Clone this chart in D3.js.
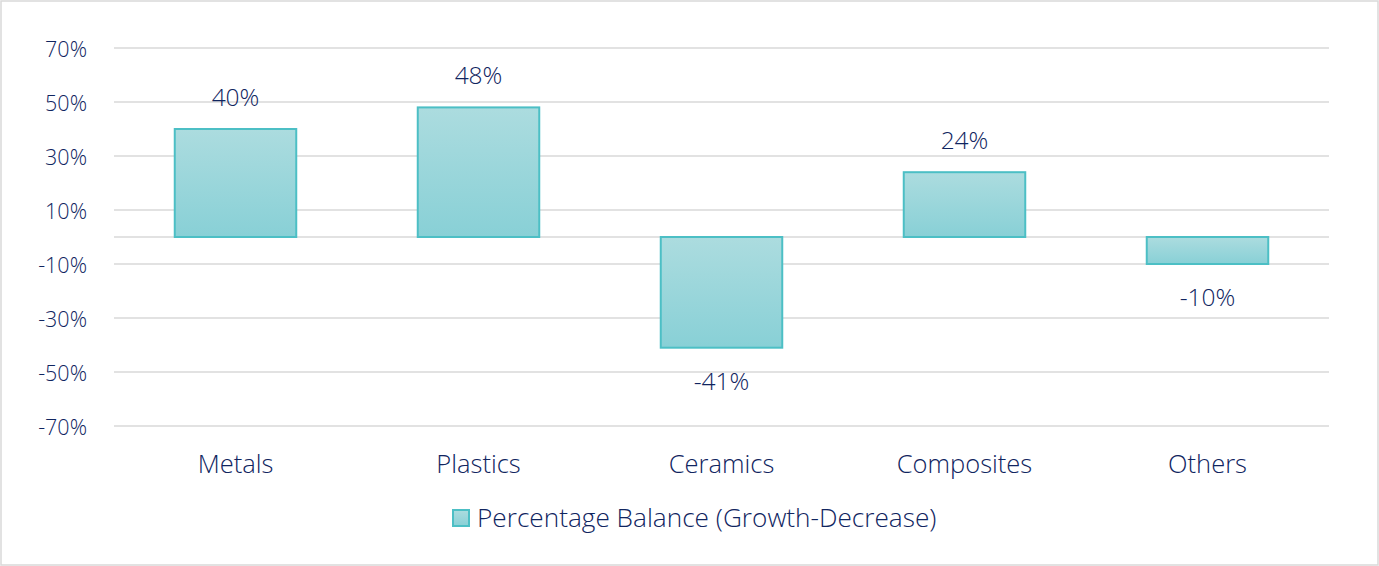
<!DOCTYPE html>
<html><head><meta charset="utf-8">
<script src="https://cdn.jsdelivr.net/npm/d3@7"></script>
<style>
html,body{margin:0;padding:0;background:#fff;}
svg text{font-family:"Open Sans",sans-serif;font-weight:300;fill:#10255f;}
</style></head>
<body>
<svg id="c" width="1379" height="566"></svg>
<script>
const categories = ["Metals","Plastics","Ceramics","Composites","Others"];
const values = [40,48,-41,24,-10];
const yTicks = [70,50,30,10,-10,-30,-50,-70];
const seriesName = "Percentage Balance (Growth-Decrease)";

const W=1379,H=566;
const FONT="'Open Sans', sans-serif";
const TXT="#10255f";
const svg=d3.select("#c");
svg.append("rect").attr("x",1).attr("y",1).attr("width",W-2).attr("height",H-2)
  .attr("fill","#fff").attr("stroke","#d9d9d9").attr("stroke-width",1.5);

const defs=svg.append("defs");
const g=defs.append("linearGradient").attr("id","bg").attr("x1",0).attr("y1",0).attr("x2",0).attr("y2",1);
g.append("stop").attr("offset","0%").attr("stop-color","#acdcdf");
g.append("stop").attr("offset","100%").attr("stop-color","#88d0d6");

const left=114,right=1329;
const y=d3.scaleLinear().domain([-70,70]).range([426,48]);
const x=d3.scaleBand().domain(categories).range([left,right]).paddingInner(0.5).paddingOuter(0.25);

// gridlines
const grid=svg.append("g");
grid.selectAll("line").data(yTicks.concat([0])).join("line")
  .attr("x1",left).attr("x2",right).attr("y1",d=>y(d)).attr("y2",d=>y(d))
  .attr("stroke","#d9d9d9").attr("stroke-width",1.5);

// y axis labels
const yAxis=d3.axisLeft(y).tickValues(yTicks).tickFormat(d=>d+"%").tickSize(0).tickPadding(0);
const ya=svg.append("g").attr("transform","translate(87,0)").call(yAxis);
ya.select(".domain").remove();
ya.selectAll("text").attr("font-size",21.5).attr("fill",TXT).attr("font-family",FONT).attr("dy","0.4em");

// bars
svg.append("g").selectAll("rect").data(values).join("rect")
  .attr("x",(d,i)=>x(categories[i]))
  .attr("width",x.bandwidth())
  .attr("y",d=>d>=0?y(d):y(0))
  .attr("height",d=>Math.abs(y(d)-y(0)))
  .attr("fill","url(#bg)").attr("stroke","#4cbfc5").attr("stroke-width",2);

// value labels
svg.append("g").selectAll("text").data(values).join("text")
  .attr("x",(d,i)=>x(categories[i])+x.bandwidth()/2)
  .attr("y",d=>d>=0?y(d)-23:y(d)+42)
  .attr("text-anchor","middle").attr("font-size",24.5)
  .text(d=>d+"%");

// x axis labels
const xAxis=d3.axisBottom(x).tickSize(0).tickPadding(0);
const xa=svg.append("g").attr("transform","translate(0,473)").call(xAxis);
xa.select(".domain").remove();
xa.selectAll("text").attr("font-size",25.5).attr("fill",TXT).attr("font-family",FONT).attr("dy","0");

// legend
const lg=svg.append("g");
lg.append("rect").attr("x",453).attr("y",510).attr("width",16).attr("height",16)
  .attr("fill","url(#bg)").attr("stroke","#4cbfc5").attr("stroke-width",2);
lg.append("text").attr("x",477).attr("y",527).attr("font-size",26.2).text(seriesName);
</script>
</body></html>
